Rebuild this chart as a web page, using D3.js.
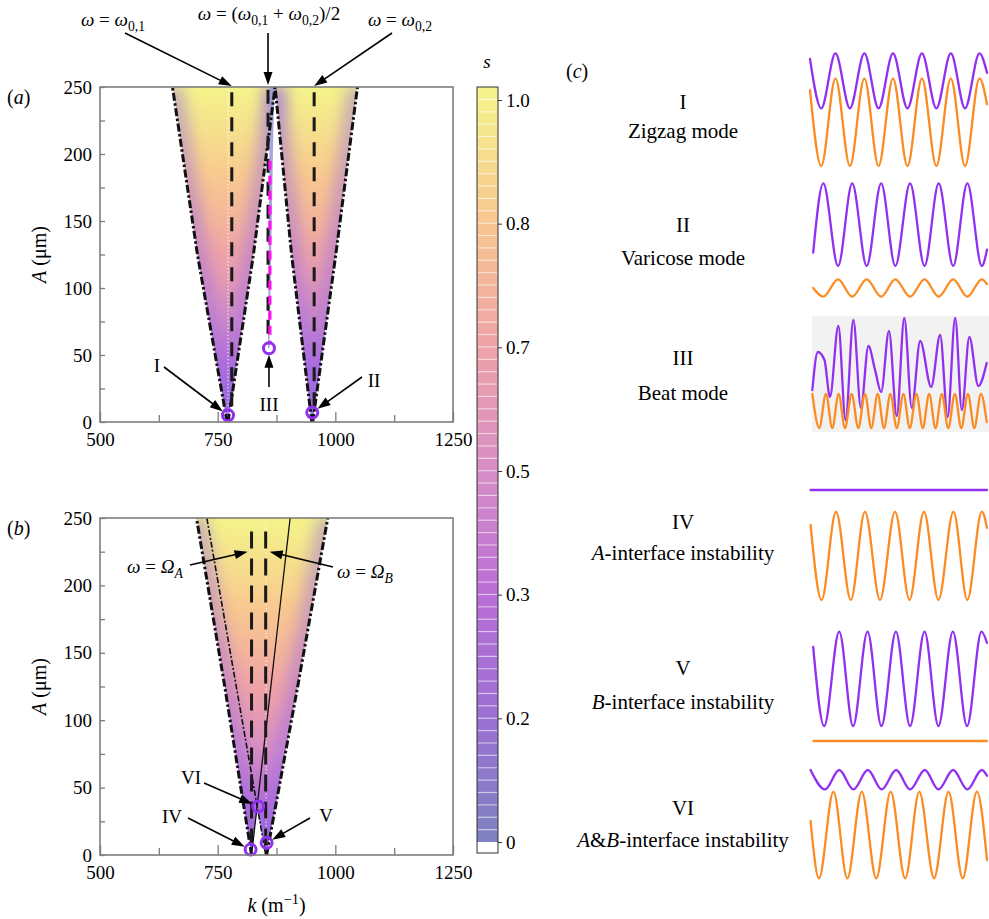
<!DOCTYPE html>
<html><head><meta charset="utf-8">
<script src="https://cdn.jsdelivr.net/npm/d3@7/dist/d3.min.js"></script>
<style>
body{margin:0;background:#fff;}
svg, svg text, svg tspan{font-family:"Liberation Serif","Times New Roman",Times,"DejaVu Serif","Noto Serif",serif;}
svg text{fill:#000;}
</style></head><body>
<svg id="chart" width="989" height="919" font-family="Liberation Serif, Times New Roman, DejaVu Serif, serif"></svg>
<script>
// ---------------- DATA ----------------
const kTicks=[500,750,1000,1250];
const kMinor=[625,875,1125];
const aTicks=[0,50,100,150,200,250];
const aMinor=[25,75,125,175,225];
const colorbarLabels=["0","0.2","0.3","0.5","0.7","0.8","1.0"];
const cmapPos=[0,0.164,0.33,0.49,0.656,0.82,1];
const cmapCol=["#7e82c0","#9a70d2","#b96ed6","#d68ec6","#eea2a8","#f8c690","#f4f48a"];

// panel (a): tongue boundaries as [A, k]
const t1Left=[[0,770],[125,707],[250,654]];
const t1Right=[[0,772],[125,826],[250,872]];
const t2Left=[[0,950],[125,907],[250,872]];
const t2Right=[[0,952],[125,1001],[250,1047]];
const beatLeft=[[55,857],[250,861]];
const beatRight=[[55,860],[250,870]];
const omega01=780, omega02=955, omegaMid=857;
const magentaA=[55,195], magentaK=861;
const modesA=[{id:"I",k:772,A:5},{id:"II",k:951,A:7},{id:"III",k:859,A:55}];

// panel (b)
const tALeft=[[0,822],[125,765],[250,705]];
const tARight=[[0,822],[250,904]];
const tBLeft=[[0,852],[250,727]];
const tBRight=[[0,854],[125,920],[250,984]];
const omegaA=822, omegaB=852;
const modesB=[{id:"IV",k:820,A:4},{id:"V",k:854,A:9},{id:"VI",k:836,A:36}];

// panel (c): waveform extrema [cycle, displacement]
const w1P=[[0,22],[0.39,-27.5],[0.88,27.5],[1.38,-27.5],[1.88,27.5],[2.37,-27.5],[2.87,27.5],[3.37,-27.5],[3.87,27.5],[4.37,-27.5],[4.87,27.5],[5.36,-27.5],[5.86,27.5],[6.12,8]];
const w1O=[[0,32],[0.39,-43.9],[0.88,43.9],[1.38,-43.9],[1.88,43.9],[2.37,-43.9],[2.87,43.9],[3.37,-43.9],[3.87,43.9],[4.37,-43.9],[4.87,43.9],[5.36,-43.9],[5.86,43.9],[6.12,18]];
const w2P=[[0.11,-28],[0.46,41.3],[0.97,-41.3],[1.46,41.3],[1.96,-41.3],[2.46,41.3],[2.95,-41.3],[3.46,41.3],[3.96,-41.3],[4.45,41.3],[4.95,-41.3],[5.44,41.3],[5.94,-41.3],[6.12,-25]];
const w2O=[[0.11,0],[0.46,-8.7],[0.97,8.7],[1.46,-8.7],[1.96,8.7],[2.46,-8.7],[2.95,8.7],[3.46,-8.7],[3.96,8.7],[4.45,-8.7],[4.95,8.7],[5.44,-8.7],[5.94,8.7],[6.12,4]];
const w3P=[[0.08,-34],[0.27,4],[0.50,-4],[0.69,-41],[0.98,30],[1.23,-64],[1.50,36],[1.76,-52],[2.02,10],[2.25,-14],[2.46,-36],[2.73,25],[3.00,-60],[3.26,38],[3.52,-52],[3.81,15],[4.19,-31],[4.50,21],[4.76,-61],[5.02,38],[5.25,-54],[5.51,19],[5.82,-30],[6.11,-7]];
const w3O=[[0.08,16],[0.32,-18],[0.55,16],[0.77,-18],[0.99,16],[1.21,-18],[1.44,16],[1.67,-18],[1.90,16],[2.12,-18],[2.34,16],[2.56,-18],[2.78,16],[3.00,-18],[3.23,16],[3.45,-18],[3.68,16],[3.90,-18],[4.12,16],[4.34,-18],[4.56,16],[4.78,-18],[5.01,16],[5.23,-18],[5.46,16],[5.68,-18],[5.91,16],[6.11,-12]];
const w4P=[[0.02,0],[6.12,0]];
const w4O=[[0.02,31],[0.40,-44.2],[0.90,44.2],[1.41,-44.2],[1.90,44.2],[2.42,-44.2],[2.94,44.2],[3.44,-44.2],[3.94,44.2],[4.44,-44.2],[4.96,44.2],[5.44,-44.2],[5.94,44.2],[6.12,28]];
const w5P=[[0.11,32],[0.49,-47.2],[1.01,47.2],[1.49,-47.2],[1.99,47.2],[2.47,-47.2],[2.97,47.2],[3.46,-47.2],[3.96,47.2],[4.44,-47.2],[4.94,47.2],[5.43,-47.2],[5.93,47.2],[6.12,36]];
const w5O=[[0.12,0],[6.12,0]];
const w6P=[[0.02,9.7],[0.52,-9.7],[1.01,9.7],[1.50,-9.7],[2.00,9.7],[2.48,-9.7],[2.98,9.7],[3.46,-9.7],[3.97,9.7],[4.44,-9.7],[4.95,9.7],[5.44,-9.7],[5.94,9.7],[6.12,4]];
const w6O=[[0.02,14],[0.31,-43.3],[0.81,43.3],[1.29,-43.3],[1.79,43.3],[2.29,-43.3],[2.79,43.3],[3.29,-43.3],[3.78,43.3],[4.29,-43.3],[4.79,43.3],[5.28,-43.3],[5.77,43.3],[6.12,-25]];

const modeLabels=[
  {num:"I",name:[{t:"Zigzag mode"}]},
  {num:"II",name:[{t:"Varicose mode"}]},
  {num:"III",name:[{t:"Beat mode"}]},
  {num:"IV",name:[{t:"A",i:1},{t:"-interface instability"}]},
  {num:"V",name:[{t:"B",i:1},{t:"-interface instability"}]},
  {num:"VI",name:[{t:"A",i:1},{t:"&"},{t:"B",i:1},{t:"-interface instability"}]}
];
const modeWaves=[[w1P,w1O],[w2P,w2O],[w3P,w3O],[w4P,w4O],[w5P,w5O],[w6P,w6O]];

// ---------------- LAYOUT ----------------
const SERIF='"Liberation Serif","Times New Roman",Times,"DejaVu Serif",serif';
const svg=d3.select("#chart");
const defs=svg.append("defs");
const FONT=19;
const GREY="#7d7d7d";
const PURPLE="#9130f0", ORANGE="#fb8c24";

const xK=d3.scaleLinear().domain([500,1250]).range([100,453]);
const yA=d3.scaleLinear().domain([0,250]).range([422,87]);
const yB=d3.scaleLinear().domain([0,250]).range([855,518]);
const cmap=d3.scaleLinear().domain(cmapPos).range(cmapCol).interpolate(d3.interpolateRgb);

function rich(sel, parts){
  let shift=0;
  parts.forEach(p=>{
    const t=sel.append("tspan").text(p.t).style("font-family",SERIF);
    if(p.i) t.attr("font-style","italic");
    let target=0, fs=null;
    if(p.sub){target=5;fs="0.72em";}
    if(p.sup){target=-8;fs="0.72em";}
    if(fs) t.attr("font-size",fs);
    if(target!==shift){t.attr("dy",target-shift);shift=target;}
  });
  return sel;
}
function arrow(x1,y1,x2,y2,head=13,hw=4.5){
  const g=svg.append("g");
  const dx=x2-x1, dy=y2-y1, L=Math.hypot(dx,dy), ux=dx/L, uy=dy/L;
  const bx=x2-ux*head, by=y2-uy*head;
  g.append("line").attr("x1",x1).attr("y1",y1).attr("x2",bx+ux*2).attr("y2",by+uy*2)
    .attr("stroke","#000").attr("stroke-width",1.6);
  g.append("path").attr("d",`M${x2},${y2}L${bx-uy*hw},${by+ux*hw}L${bx+uy*hw},${by-ux*hw}Z`).attr("fill","#000");
}
function toward(px,py,sx,sy,r){const dx=sx-px,dy=sy-py,L=Math.hypot(dx,dy);return [px+dx/L*r,py+dy/L*r];}

const f=defs.append("filter").attr("id","blur").attr("filterUnits","userSpaceOnUse")
  .attr("x",0).attr("y",0).attr("width",989).attr("height",919);
f.append("feGaussianBlur").attr("stdDeviation",7);

function makeGrad(id,ys){
  const g=defs.append("linearGradient").attr("id",id).attr("gradientUnits","userSpaceOnUse")
    .attr("x1",0).attr("x2",0).attr("y1",ys(0)).attr("y2",ys(250));
  d3.range(0,1.0001,0.05).forEach(o=>g.append("stop").attr("offset",o).attr("stop-color",cmap(Math.pow(o,0.6))));
}
makeGrad("gA",yA); makeGrad("gB",yB);

function tonguePath(ys,left,right){
  const line=d3.line().x(d=>xK(d[1])).y(d=>ys(d[0]));
  return line(left.slice().reverse().concat(right))+"Z";
}
function edgeLine(ys,pts){return d3.line().x(d=>xK(d[1])).y(d=>ys(d[0]))(pts);}

function drawTongues(ys,grad,clipId,tongues,outerEdges){
  const cp=defs.append("clipPath").attr("id",clipId);
  tongues.forEach(t=>cp.append("path").attr("d",tonguePath(ys,t[0],t[1])));
  const g=svg.append("g");
  tongues.forEach(t=>g.append("path").attr("d",tonguePath(ys,t[0],t[1])).attr("fill",`url(#${grad})`));
  const gl=svg.append("g").attr("clip-path",`url(#${clipId})`);
  outerEdges.forEach(e=>gl.append("path").attr("d",edgeLine(ys,e)).attr("fill","none")
    .attr("stroke","#9a6ae6").attr("stroke-width",22).attr("opacity",0.45).attr("filter","url(#blur)"));
}
function dashDot(ys,pts,w){
  svg.append("path").attr("d",edgeLine(ys,pts)).attr("fill","none").attr("stroke","#111")
    .attr("stroke-width",w).attr("stroke-dasharray",w>2?"8,2.5,2.5,2.5":"6,2,2,2");
}
function vDash(ys,k,a0,a1,color,w,dash){
  svg.append("line").attr("x1",xK(k)).attr("x2",xK(k)).attr("y1",ys(a1)).attr("y2",ys(a0))
    .attr("stroke",color).attr("stroke-width",w).attr("stroke-dasharray",dash);
}
function circles(ys,pts){
  svg.selectAll(null).data(pts).join("circle").attr("cx",d=>xK(d.k)).attr("cy",d=>ys(d.A))
    .attr("r",5.5).attr("fill","none").attr("stroke",PURPLE).attr("stroke-width",3);
}
function axes(ys,label){
  const g=svg.append("g");
  const b=ys(0), t=ys(250);
  g.append("g").attr("transform",`translate(0,${b})`).call(d3.axisBottom(xK).tickValues(kTicks).tickSizeInner(-10).tickSizeOuter(0).tickPadding(11).tickFormat(d3.format("d")));
  g.append("g").attr("transform",`translate(0,${b})`).call(d3.axisBottom(xK).tickValues(kMinor).tickSizeInner(-7).tickSizeOuter(0).tickFormat(""));
  g.append("g").attr("transform",`translate(${xK(500)},0)`).call(d3.axisLeft(ys).tickValues(aTicks).tickSizeInner(-5).tickSizeOuter(0).tickPadding(8).tickFormat(d3.format("d")));
  g.append("g").attr("transform",`translate(${xK(500)},0)`).call(d3.axisLeft(ys).tickValues(aMinor).tickSizeInner(-5).tickSizeOuter(0).tickFormat(""));
  g.selectAll("path.domain").remove();
  g.selectAll("g").attr("font-family",null);
  g.selectAll(".tick line").attr("stroke",GREY).attr("stroke-width",1.3);
  g.selectAll("text").attr("font-size",FONT).style("font-family",SERIF).attr("fill","#000");
  g.append("rect").attr("x",xK(500)).attr("y",t).attr("width",xK(1250)-xK(500)).attr("height",b-t)
    .attr("fill","none").attr("stroke",GREY).attr("stroke-width",1.6);
  const yt=svg.append("text").attr("transform",`translate(46,${(b+t)/2}) rotate(-90)`).attr("text-anchor","middle").attr("font-size",20);
  rich(yt,[{t:"A",i:1},{t:" (μm)"}]);
  const pl=svg.append("text").attr("x",7).attr("y",t+17).attr("font-size",20);
  rich(pl,[{t:"("},{t:label,i:1},{t:")"}]);
}

// ---------- Panel (a) ----------
drawTongues(yA,"gA","clipA",[[t1Left,t1Right],[t2Left,t2Right]],[t1Left,t1Right,t2Left,t2Right]);
svg.append("path").attr("d",tonguePath(yA,beatLeft,beatRight)).attr("fill","#a299dc").attr("opacity",0.9);
vDash(yA,modesA[0].k,3,248,"#fff",1.2,"1,2.5");
[t1Left,t1Right,t2Left,t2Right].forEach(e=>dashDot(yA,e,3));
vDash(yA,omega01,6,246,"#1a1a1a",3,"14,11");
vDash(yA,omega02,6,246,"#1a1a1a",3,"14,11");
vDash(yA,omegaMid,58,248,"#1a1a1a",3,"14,9");
vDash(yA,magentaK,magentaA[0]+3,magentaA[1],"#ff10f0",3.2,"9,6");
circles(yA,modesA);
axes(yA,"a");

// ---------- Panel (b) ----------
drawTongues(yB,"gB","clipB",[[tALeft,tARight],[tBLeft,tBRight]],[tALeft,tBRight]);
vDash(yB,omegaB+1,3,248,"#fff",1.2,"1,2.5");
dashDot(yB,tALeft,3); dashDot(yB,tBRight,3);
svg.append("path").attr("d",edgeLine(yB,tARight)).attr("fill","none").attr("stroke","#111").attr("stroke-width",1.3);
dashDot(yB,tBLeft,1.6);
vDash(yB,omegaA,4,240,"#1a1a1a",3,"17,10");
vDash(yB,omegaB,4,240,"#1a1a1a",3,"17,10");
circles(yB,modesB);
axes(yB,"b");
const xt=svg.append("text").attr("x",xK(875)).attr("y",912).attr("text-anchor","middle").attr("font-size",20);
rich(xt,[{t:"k",i:1},{t:" (m"},{t:"−1",sup:1},{t:")"}]);

// ---------- annotations ----------
function ann(x,y,parts,anchor){
  const t=svg.append("text").attr("x",x).attr("y",y).attr("text-anchor",anchor||"middle").attr("font-size",FONT);
  rich(t,parts);
}
ann(113,26,[{t:"ω",i:1},{t:" = "},{t:"ω",i:1},{t:"0,1",sub:1}]);
ann(269,20,[{t:"ω",i:1},{t:" = ("},{t:"ω",i:1},{t:"0,1",sub:1},{t:" + "},{t:"ω",i:1},{t:"0,2",sub:1},{t:")/2"}]);
ann(400,26,[{t:"ω",i:1},{t:" = "},{t:"ω",i:1},{t:"0,2",sub:1}]);
arrow(125,33,xK(omega01),yA(250)-1);
arrow(xK(omegaMid),33,xK(omegaMid),yA(250)-2);
arrow(392,33,xK(omega02),yA(250)-1);

function modeArrow(ys,m,sx,sy){
  const px=xK(m.k), py=ys(m.A);
  const e=toward(px,py,sx,sy,6.5);
  arrow(sx,sy,e[0],e[1]);
}
ann(157,372,[{t:"I"}]); modeArrow(yA,modesA[0],164,367);
ann(269,411,[{t:"III"}]); modeArrow(yA,modesA[2],xK(modesA[2].k),387);
ann(374,387,[{t:"II"}]); modeArrow(yA,modesA[1],362,377);

ann(191,784,[{t:"VI"}]); modeArrow(yB,modesB[2],204,783);
ann(172,823,[{t:"IV"}]); modeArrow(yB,modesB[0],188,818);
ann(326,822,[{t:"V"}]); modeArrow(yB,modesB[1],310,818);

ann(127,573,[{t:"ω",i:1},{t:" = "},{t:"Ω",i:1},{t:"A",i:1,sub:1}],"start");
ann(337,578,[{t:"ω",i:1},{t:" = "},{t:"Ω",i:1},{t:"B",i:1,sub:1}],"start");
arrow(190,565,xK(omegaA)-4,yB(225));
arrow(333,567,xK(omegaB)+4,yB(225));

// ---------- colorbar ----------
const cbX=477, cbW=21;
const cbY=d3.scaleLinear().domain([0,1]).range([842,87]);
const nb=61;
const bands=d3.range(nb);
const cb=svg.append("g");
cb.selectAll("rect.band").data(bands).join("rect").attr("x",cbX).attr("width",cbW)
  .attr("y",i=>cbY((i+1)/nb)).attr("height",cbY(0)-cbY(1/nb)+0.3)
  .attr("fill",i=>cmap((i+0.5)/nb));
cb.selectAll("line.sep").data(bands.slice(1)).join("line").attr("x1",cbX+1).attr("x2",cbX+cbW-1)
  .attr("y1",i=>cbY(i/nb)).attr("y2",i=>cbY(i/nb)).attr("stroke","#fff").attr("stroke-opacity",0.55).attr("stroke-width",1.2);
cb.append("rect").attr("x",cbX).attr("y",842).attr("width",cbW).attr("height",11).attr("fill","#fff");
cb.append("rect").attr("x",cbX).attr("y",87).attr("width",cbW).attr("height",853-87).attr("fill","none").attr("stroke","#333").attr("stroke-width",1);
const cbS=d3.scalePoint().domain(colorbarLabels).range([842,100]);
const cba=cb.append("g").attr("transform",`translate(${cbX+cbW},0)`).call(d3.axisRight(cbS).tickSizeInner(4).tickSizeOuter(0).tickPadding(4));
cba.attr("font-family",null);
cba.select("path.domain").remove();
cba.selectAll("line").attr("stroke","#333");
cba.selectAll("text").attr("font-size",FONT).style("font-family",SERIF).attr("fill","#000");
const sl=svg.append("text").attr("x",487).attr("y",68).attr("text-anchor","middle").attr("font-size",FONT);
rich(sl,[{t:"s",i:1}]);

// ---------- panel (c) ----------
const pc=svg.append("text").attr("x",566).attr("y",78).attr("font-size",20);
rich(pc,[{t:"("},{t:"c",i:1},{t:")"}]);
const xW=d3.scaleLinear().domain([0,6.12]).range([810,987]);
const waveCenters=[[80.8,122.2],[224.7,288],[356,410],[490,555.8],[678.8,741],[779.7,835]];
const labelY=[[102,131],[225,258],[358,393],[522,553],[668,702],[808,840]];
svg.append("rect").attr("x",xW(0.07)).attr("y",316).attr("width",989-xW(0.07)).attr("height",116).attr("fill","#f2f2f2");
modeWaves.forEach((pair,i)=>{
  pair.forEach((data,j)=>{
    const c=waveCenters[i][j];
    const ys=d3.scaleLinear().domain([-1,1]).range([c+1,c-1]);
    const line=d3.line().x(d=>xW(d[0])).y(d=>ys(d[1])).curve(d3.curveMonotoneX);
    svg.append("path").attr("d",line(data)).attr("fill","none").attr("stroke",j===0?PURPLE:ORANGE)
      .attr("stroke-width",2.3).attr("stroke-linecap","round");
  });
  const lab=modeLabels[i];
  const n=svg.append("text").attr("x",683).attr("y",labelY[i][0]+7).attr("text-anchor","middle").attr("font-size",21);
  rich(n,[{t:lab.num}]);
  const t=svg.append("text").attr("x",683).attr("y",labelY[i][1]+7).attr("text-anchor","middle").attr("font-size",21);
  rich(t,lab.name);
});
</script>
</body></html>
